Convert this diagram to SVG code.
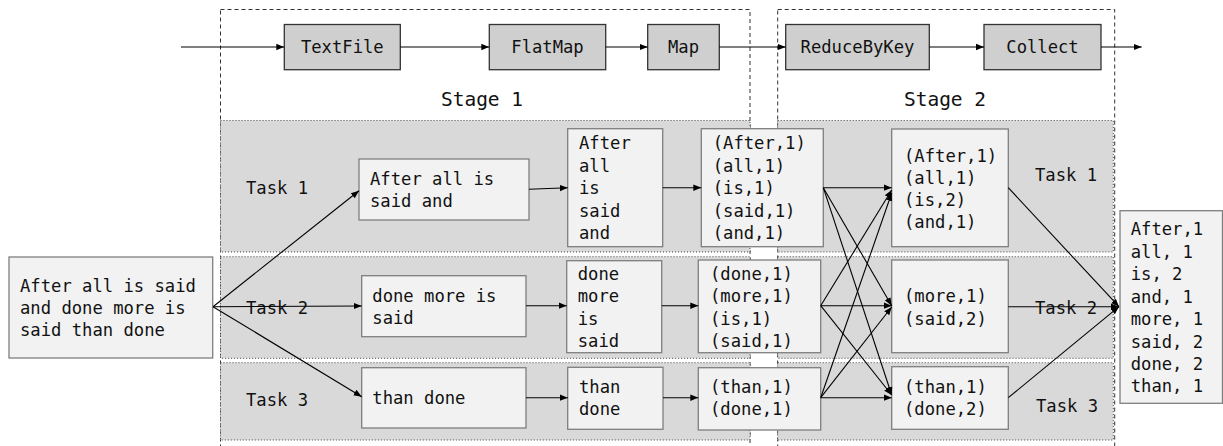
<svg xmlns="http://www.w3.org/2000/svg" width="1223" height="446" viewBox="0 0 1223 446">
<defs>
<marker id="arr" viewBox="0 0 10 10" refX="10" refY="5" markerWidth="8" markerHeight="8" markerUnits="userSpaceOnUse" orient="auto">
<path d="M0,1 L10,5 L0,9 z" fill="#000"/>
</marker>
</defs>
<style>
text{font-family:"DejaVu Sans Mono","Liberation Mono",monospace;font-size:17.2px;fill:#111}
.stage{fill:none;stroke:#333;stroke-width:1;stroke-dasharray:4 3}
.band{fill:#d9d9d9;stroke:#444;stroke-width:1;stroke-dasharray:1 2}
.op{fill:#cfcfcf;stroke:#333;stroke-width:1.3}
.box{fill:#f2f2f2;stroke:#7f7f7f;stroke-width:1.3}
.slabel{font-size:19.5px}
.mid{text-anchor:middle}
.c line{stroke:#000;stroke-width:1.1;marker-end:url(#arr)}
</style>
<rect width="1223" height="446" fill="#fff"/>
<g id="stage1">
<rect class="stage" x="220.5" y="9.5" width="529.5" height="460"/>
<rect class="band" x="220.5" y="120.5" width="529.5" height="131.5"/>
<rect class="band" x="220.5" y="256.7" width="529.5" height="101.6"/>
<rect class="band" x="220.5" y="362.7" width="529.5" height="77.3"/>
<text class="slabel mid" x="482" y="106">Stage 1</text>
<text x="246" y="194">Task 1</text>
<text x="246" y="314">Task 2</text>
<text x="246" y="405.5">Task 3</text>
</g>
<g id="stage2">
<rect class="stage" x="777.7" y="9.5" width="337" height="460"/>
<rect class="band" x="777.7" y="120.5" width="335.6" height="131.5"/>
<rect class="band" x="777.7" y="256.7" width="335.6" height="101.6"/>
<rect class="band" x="777.7" y="362.7" width="335.6" height="77.3"/>
<text class="slabel mid" x="945" y="106">Stage 2</text>
<text x="1035" y="180.5">Task 1</text>
<text x="1035" y="314">Task 2</text>
<text x="1036" y="411.5">Task 3</text>
</g>
<g id="op-textfile"><rect class="op" x="284.3" y="24.5" width="116" height="45.2"/><text class="mid" x="342.3" y="53">TextFile</text></g>
<g id="op-flatmap"><rect class="op" x="489.3" y="24.5" width="116.4" height="45.2"/><text class="mid" x="547.5" y="53">FlatMap</text></g>
<g id="op-map"><rect class="op" x="647.7" y="24.5" width="71.6" height="45.2"/><text class="mid" x="683.5" y="53">Map</text></g>
<g id="op-reducebykey"><rect class="op" x="785.7" y="24.5" width="143.6" height="45.2"/><text class="mid" x="857.5" y="53">ReduceByKey</text></g>
<g id="op-collect"><rect class="op" x="984" y="24.5" width="117" height="45.2"/><text class="mid" x="1042.5" y="53">Collect</text></g>
<g id="input"><rect class="box" x="9" y="257" width="203.7" height="101"/>
<text x="20" y="291.5">After all is said</text><text x="20" y="313.7">and done more is</text><text x="20" y="336.3">said than done</text></g>
<g id="split1"><rect class="box" x="359" y="159" width="170" height="61"/>
<text x="370" y="184.5">After all is</text><text x="370" y="207">said and</text></g>
<g id="split2"><rect class="box" x="361.7" y="275.7" width="164.3" height="61"/>
<text x="372.3" y="301.5">done more is</text><text x="372.3" y="324">said</text></g>
<g id="split3"><rect class="box" x="361.7" y="367.7" width="164.3" height="60.3"/>
<text x="372.3" y="404">than done</text></g>
<g id="flatmap1"><rect class="box" x="567.7" y="128.7" width="95" height="118"/>
<text x="579" y="149">After</text><text x="579" y="171.6">all</text><text x="579" y="194.2">is</text><text x="579" y="216.8">said</text><text x="579" y="239.4">and</text></g>
<g id="flatmap2"><rect class="box" x="566.7" y="260.7" width="95" height="92"/>
<text x="577.7" y="280">done</text><text x="577.7" y="302.3">more</text><text x="577.7" y="324.6">is</text><text x="577.7" y="346.9">said</text></g>
<g id="flatmap3"><rect class="box" x="567.7" y="367.3" width="95.3" height="62"/>
<text x="579" y="393.3">than</text><text x="579" y="415">done</text></g>
<g id="map1"><rect class="box" x="701.3" y="128.7" width="122" height="118"/>
<text x="712.7" y="149">(After,1)</text><text x="712.7" y="171.6">(all,1)</text><text x="712.7" y="194.2">(is,1)</text><text x="712.7" y="216.8">(said,1)</text><text x="712.7" y="239.4">(and,1)</text></g>
<g id="map2"><rect class="box" x="698.3" y="260" width="122.4" height="92.7"/>
<text x="710" y="280">(done,1)</text><text x="710" y="302.3">(more,1)</text><text x="710" y="324.6">(is,1)</text><text x="710" y="346.9">(said,1)</text></g>
<g id="map3"><rect class="box" x="698.3" y="367.7" width="122.4" height="62.3"/>
<text x="710" y="393.3">(than,1)</text><text x="710" y="415">(done,1)</text></g>
<g id="reduce1"><rect class="box" x="891.7" y="129" width="116.6" height="117.7"/>
<text x="904" y="161.5">(After,1)</text><text x="904" y="183.5">(all,1)</text><text x="904" y="205.5">(is,2)</text><text x="904" y="227.5">(and,1)</text></g>
<g id="reduce2"><rect class="box" x="891.7" y="260" width="116.6" height="92.7"/>
<text x="904" y="302">(more,1)</text><text x="904" y="324.5">(said,2)</text></g>
<g id="reduce3"><rect class="box" x="891.7" y="366.7" width="116.6" height="62.6"/>
<text x="904" y="393.3">(than,1)</text><text x="904" y="415">(done,2)</text></g>
<g id="output"><rect class="box" x="1120" y="210.7" width="102.5" height="192.6"/>
<text x="1130.7" y="235">After,1</text><text x="1130.7" y="257.5">all, 1</text><text x="1130.7" y="280">is, 2</text><text x="1130.7" y="302.5">and, 1</text><text x="1130.7" y="325">more, 1</text><text x="1130.7" y="347.5">said, 2</text><text x="1130.7" y="370">done, 2</text><text x="1130.7" y="392">than, 1</text></g>
<g id="connectors" class="c">
<line x1="181" y1="47" x2="284.3" y2="47"/>
<line x1="400.3" y1="47" x2="489.3" y2="47"/>
<line x1="605.7" y1="47" x2="647.7" y2="47"/>
<line x1="719.3" y1="47" x2="785.7" y2="47"/>
<line x1="929.3" y1="47" x2="984" y2="47"/>
<line x1="1101" y1="47" x2="1141.7" y2="47"/>
<line x1="213" y1="306.7" x2="359" y2="190.7"/>
<line x1="213" y1="306.7" x2="361.7" y2="306"/>
<line x1="213" y1="306.7" x2="361.7" y2="396.7"/>
<line x1="529" y1="189.3" x2="567.7" y2="187.7"/>
<line x1="662.7" y1="187.7" x2="701.3" y2="187.7"/>
<line x1="526" y1="305.7" x2="566.7" y2="305.7"/>
<line x1="661.7" y1="305.7" x2="698.3" y2="305.7"/>
<line x1="526" y1="397.7" x2="567.7" y2="397.7"/>
<line x1="663" y1="397.7" x2="698.3" y2="397.7"/>
<line x1="823.3" y1="187.7" x2="891.7" y2="187.7"/>
<line x1="823.3" y1="187.7" x2="891.7" y2="305.7"/>
<line x1="823.3" y1="187.7" x2="891.7" y2="395"/>
<line x1="820.7" y1="305.7" x2="891.7" y2="190"/>
<line x1="820.7" y1="305.7" x2="891.7" y2="305.7"/>
<line x1="820.7" y1="305.7" x2="891.7" y2="395"/>
<line x1="820.7" y1="397.7" x2="891.7" y2="193"/>
<line x1="820.7" y1="397.7" x2="891.7" y2="307"/>
<line x1="820.7" y1="397.7" x2="891.7" y2="397.7"/>
<line x1="1008.3" y1="187.7" x2="1119" y2="306.7"/>
<line x1="1008.3" y1="306.7" x2="1119" y2="306.7"/>
<line x1="1008.3" y1="397.7" x2="1119" y2="306.7"/>
</g>
</svg>
